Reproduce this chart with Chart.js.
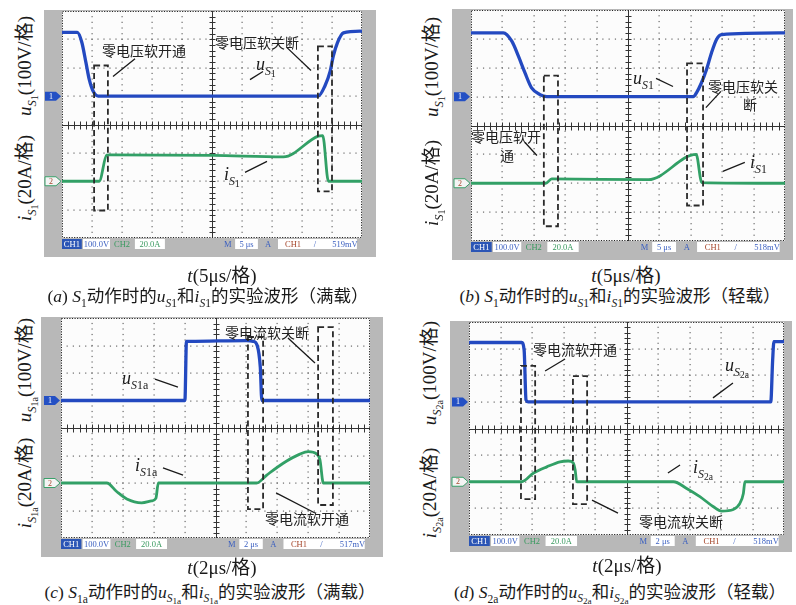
<!DOCTYPE html>
<html><head><meta charset="utf-8">
<script src="https://cdn.jsdelivr.net/npm/chart.js@4.4.1/dist/chart.umd.min.js"></script>
<style>
html,body{margin:0;padding:0;background:#fff;}
#root{position:relative;width:796px;height:605px;overflow:hidden;font-family:"Liberation Serif","Noto Sans CJK SC",serif;color:#1a1a1a;}
canvas{position:absolute;}
.t{position:absolute;white-space:nowrap;line-height:1;}
.cn{font-family:"Noto Sans CJK SC",sans-serif;font-size:14px;color:#222;}
.lab{font-size:18px;}
.ax{font-size:19px;}
.cap{font-size:17.5px;}
sub{font-size:0.66em;vertical-align:-0.38em;line-height:0;}
sub sub{font-size:0.8em;vertical-align:-0.25em;}
</style></head><body><div id="root"></div>
<script>
// ---------------- data ----------------
// Panel (a): S1, full load, 5 μs/div. Voltage in V, current in A, time in μs.
const aTimeU = [0, 2.55, 3.3, 4.0, 4.55, 5.2, 6.05, 42.7, 43.8, 44.7, 45.2, 45.9, 46.9, 49.7, 50];
const aVoltU = [225, 225, 190, 117, 58, 17, 0, 0, 35, 88, 140, 188, 223, 229, 228];
const aTimeI = [0, 6.2, 7.45, 8.0, 25.2, 36.9, 42.7, 43.45, 44.4, 50];
const aCurrI = [0, 0, 18.4, 18.6, 18.2, 17.2, 31.8, 32.2, 0, 0];
// Panel (b): S1, light load, 5 μs/div
const bTimeU = [0, 5.15, 6.5, 7.55, 8.6, 9.65, 11.0, 12.05, 35.4, 35.9, 36.7, 37.5, 38.3, 39.1, 39.9, 50];
const bVoltU = [221, 221, 192, 140, 82, 30, 7, 0, 0, 13, 48, 94, 152, 198, 215, 221];
const bTimeI = [0, 11.9, 12.85, 28.25, 35.85, 36.75, 50];
const bCurrI = [0, 0, 3, 2.5, 20, 0.5, 0];
// Panel (c): S1a, full load, 2 μs/div
const cTimeU = [0, 8.02, 8.12, 8.35, 12.0, 12.45, 12.7, 12.9, 13.0, 20];
const cVoltU = [0, 0, 215, 215, 218, 215, 200, 121, 0, 0];
const cTimeI = [0, 2.96, 3.6, 4.26, 5.22, 5.86, 6.14, 6.3, 12.66, 13.32, 14.38, 15.46, 16.0, 16.56, 16.76, 16.98, 20];
const cCurrI = [0, 0, -6.2, -11.6, -14.4, -13, -11.2, 0, 0, 5.8, 14.4, 21, 22.8, 21, 16.8, 0, 0];
// Panel (d): S2a, light load, 2 μs/div
const dTimeU = [0, 3.34, 3.5, 3.62, 3.76, 19.16, 19.28, 19.36, 20];
const dVoltU = [223, 223, 195, 7, 0, 0, 158, 226, 226];
const dTimeI = [0, 3.34, 4.08, 4.94, 5.78, 6.3, 6.62, 6.74, 6.84, 12.98, 13.82, 14.66, 15.52, 16.04, 16.78, 17.2, 17.42, 17.52, 20];
const dCurrI = [0, 0, 6.4, 11.2, 15, 15.6, 14.2, 8.8, 0, 0, -5, -11.2, -18.8, -22, -20.8, -16.2, -8.8, 0, 0];
// Scope settings / status bar texts
const voltPerDiv = 100, ampPerDiv = 20;
const timePerDiv = [5, 5, 2, 2];
const statusA = ['100.0V', '20.0A', '5 μs', '519mV'];
const statusB = ['100.0V', '20.0A', '5 μs', '518mV'];
const statusC = ['100.0V', '20.0A', '2 μs', '517mV'];
const statusD = ['100.0V', '20.0A', '2 μs', '518mV'];

// ---------------- layout / styling ----------------
const GRAY = '#b8b8b8', SCREEN = '#fcfcfc', BLUE = '#2349c0', GREEN = '#32a066';
const panels = [
  {frame:[44,10,332,247], pad:[18,1,14,19], tdiv:timePerDiv[0], tu:aTimeU, u:aVoltU, ti:aTimeI, i:aCurrI, status:statusA,
   boxes:[[5.35,7.65,108,-403],[42.65,45.0,175,-336]],
   leaders:[[12.17,132,8.5,69],[37.5,171,41.5,90],[31.33,58,33.5,87],[30.5,-269,34.17,-230]]},
  {frame:[452,9,341,251], pad:[19,1,8,19], tdiv:timePerDiv[1], tu:bTimeU, u:bVoltU, ti:bTimeI, i:bCurrI, status:statusB,
   boxes:[[11.6,13.85,73,-449],[34.4,36.95,115,-377]],
   leaders:[[29.46,63,32.17,35],[39.8,18,37.4,-38],[8.6,-159,10.5,-204],[40.1,-259,43.6,-228]]},
  {frame:[41,317,342,240], pad:[20,1,13,19], tdiv:timePerDiv[2], tu:cTimeU, u:cVoltU, ti:cTimeI, i:cCurrI, status:statusC,
   boxes:[[12.1,13.08,231,-395],[16.64,17.6,267,-380]],
   leaders:[[14.69,227,16.44,136],[6.08,78,7.57,49],[6.6,-245,7.9,-271],[13.92,-336,16.44,-409]]},
  {frame:[450,321,342,231], pad:[19,1,8,17], tdiv:timePerDiv[3], tu:dTimeU, u:dVoltU, ti:dTimeI, i:dCurrI, status:statusD,
   boxes:[[3.3,4.2,135,-365],[6.6,7.5,97,-384]],
   leaders:[[6.1,161,4.83,116],[16.76,71,15.49,15],[13.4,-237,12.63,-267],[7.81,-369,9.46,-418]]}
];

const root = document.getElementById('root');

const scopePlugin = {
  id: 'scope',
  beforeDraw(chart) {
    const ctx = chart.ctx, a = chart.chartArea, st = chart.options.plugins.scope;
    const xs = chart.scales.x, yu = chart.scales.yU;
    const W = a.right - a.left, H = a.bottom - a.top;
    ctx.save();
    ctx.fillStyle = GRAY; ctx.fillRect(0, 0, chart.width, chart.height);
    ctx.fillStyle = SCREEN; ctx.fillRect(a.left, a.top, W, H);
    const tdiv = st.tdiv;
    // dotted grid
    ctx.fillStyle = '#6a6a6a';
    for (let k = 1; k < 10; k++) {
      if (k === 5) continue;
      const x = Math.round(xs.getPixelForValue(k * tdiv));
      for (let j = 1; j < 40; j++) {
        const y = yu.getPixelForValue(-500 + j * voltPerDiv / 5);
        ctx.fillRect(x - 0.5, y - 0.6, 1.2, 1.2);
      }
    }
    for (let j = 1; j < 8; j++) {
      if (j === 4) continue;
      const y = Math.round(yu.getPixelForValue(-500 + j * voltPerDiv));
      for (let k = 1; k < 50; k++) {
        const x = xs.getPixelForValue(k * tdiv / 5);
        ctx.fillRect(x - 0.6, y - 0.5, 1.2, 1.2);
      }
    }
    // centre cross with minor ticks
    const cx = Math.round(xs.getPixelForValue(5 * tdiv)) + 0.5;
    const cy = Math.round(yu.getPixelForValue(-100)) + 0.5;
    ctx.strokeStyle = '#333'; ctx.lineWidth = 1;
    ctx.beginPath();
    ctx.moveTo(a.left, cy); ctx.lineTo(a.right, cy);
    ctx.moveTo(cx, a.top); ctx.lineTo(cx, a.bottom);
    for (let k = 1; k < 50; k++) {
      const x = Math.round(xs.getPixelForValue(k * tdiv / 5)) + 0.5;
      ctx.moveTo(x, cy - 4); ctx.lineTo(x, cy + 4);
    }
    for (let j = 1; j < 40; j++) {
      const y = Math.round(yu.getPixelForValue(-500 + j * voltPerDiv / 5)) + 0.5;
      ctx.moveTo(cx - 3, y); ctx.lineTo(cx + 3, y);
    }
    ctx.stroke();
    // dotted border
    ctx.setLineDash([1.2, 1.4]); ctx.strokeStyle = '#222';
    ctx.strokeRect(a.left + 0.5, a.top + 0.5, W - 1, H - 1);
    ctx.setLineDash([]);
    // status bar
    const by = a.bottom + 1, bh = 10, s = st.status;
    const box = (x0, x1, fill) => { ctx.fillStyle = fill; ctx.fillRect(a.left + x0 * W, by, (x1 - x0) * W, bh); };
    const txt = (str, xc, color) => {
      ctx.fillStyle = color; ctx.font = '8.5px "Liberation Serif"';
      ctx.textAlign = 'center'; ctx.textBaseline = 'middle';
      ctx.fillText(str, a.left + xc * W, by + bh / 2 + 0.5);
    };
    box(0, 0.066, '#2b55b5'); txt('CH1', 0.033, '#fff');
    box(0.07, 0.16, '#fff'); txt(s[0], 0.115, '#3a5fc0');
    txt('CH2', 0.2, '#3a9a60');
    box(0.243, 0.343, '#fff'); txt(s[1], 0.293, '#3a9a60');
    txt('M', 0.553, '#3a5fc0');
    box(0.577, 0.653, '#fff'); txt(s[2], 0.615, '#3a5fc0');
    txt('A', 0.687, '#3a5fc0');
    box(0.72, 0.983, '#fff'); txt('CH1', 0.77, '#a5452a'); txt('/', 0.843, '#3a5fc0'); txt(s[3], 0.943, '#3a5fc0');
    // ground markers
    const marker = (y, filled, color, label, lc) => {
      const x0 = a.left - 17, x1 = a.left - 1;
      ctx.beginPath();
      ctx.moveTo(x0, y - 4.5); ctx.lineTo(x1 - 5, y - 4.5); ctx.lineTo(x1, y);
      ctx.lineTo(x1 - 5, y + 4.5); ctx.lineTo(x0, y + 4.5); ctx.closePath();
      if (filled) { ctx.fillStyle = color; ctx.fill(); }
      else { ctx.fillStyle = '#f4f4f4'; ctx.fill(); ctx.strokeStyle = color; ctx.lineWidth = 1; ctx.stroke(); }
      ctx.fillStyle = lc; ctx.font = '8px "Liberation Serif"'; ctx.textAlign = 'center'; ctx.textBaseline = 'middle';
      ctx.fillText(label, x0 + 6, y + 0.5);
    };
    marker(yu.getPixelForValue(0), true, '#2450c4', '1', '#fff');
    marker(chart.scales.yI.getPixelForValue(0), false, '#3aa06a', '2', '#a5452a');
    ctx.restore();
  },
  afterDatasetsDraw(chart) {
    const ctx = chart.ctx, st = chart.options.plugins.scope;
    const xs = chart.scales.x, yu = chart.scales.yU;
    ctx.save();
    ctx.strokeStyle = '#2a2a2a'; ctx.lineWidth = 1.8; ctx.setLineDash([6, 3.5]);
    st.boxes.forEach(b => {
      const x0 = xs.getPixelForValue(b[0]), x1 = xs.getPixelForValue(b[1]);
      const y0 = yu.getPixelForValue(b[2]), y1 = yu.getPixelForValue(b[3]);
      ctx.strokeRect(x0, y0, x1 - x0, y1 - y0);
    });
    ctx.setLineDash([]); ctx.lineWidth = 1.3; ctx.strokeStyle = '#1a1a1a';
    ctx.beginPath();
    st.leaders.forEach(l => {
      ctx.moveTo(xs.getPixelForValue(l[0]), yu.getPixelForValue(l[1]));
      ctx.lineTo(xs.getPixelForValue(l[2]), yu.getPixelForValue(l[3]));
    });
    ctx.stroke();
    ctx.restore();
  }
};

panels.forEach(p => {
  const cv = document.createElement('canvas');
  cv.width = p.frame[2]; cv.height = p.frame[3];
  cv.style.left = p.frame[0] + 'px'; cv.style.top = p.frame[1] + 'px';
  cv.style.width = p.frame[2] + 'px'; cv.style.height = p.frame[3] + 'px';
  root.appendChild(cv);
  new Chart(cv, {
    type: 'line',
    data: {
      datasets: [
        {data: p.tu.map((t, k) => ({x: t, y: p.u[k]})), yAxisID: 'yU', borderColor: BLUE, borderWidth: 3.3, pointRadius: 0, cubicInterpolationMode: 'monotone', fill: false},
        {data: p.ti.map((t, k) => ({x: t, y: p.i[k]})), yAxisID: 'yI', borderColor: GREEN, borderWidth: 2.8, pointRadius: 0, cubicInterpolationMode: 'monotone', fill: false}
      ]
    },
    options: {
      responsive: false, animation: false, events: [],
      layout: {padding: {left: p.pad[0], top: p.pad[1], right: p.pad[2], bottom: p.pad[3]}},
      scales: {
        x: {type: 'linear', min: 0, max: 10 * p.tdiv, display: false},
        yU: {type: 'linear', min: -5 * voltPerDiv, max: 3 * voltPerDiv, display: false},
        yI: {type: 'linear', min: -2 * ampPerDiv, max: 6 * ampPerDiv, display: false}
      },
      plugins: {legend: {display: false}, tooltip: {enabled: false},
        scope: {tdiv: p.tdiv, status: p.status, boxes: p.boxes, leaders: p.leaders}}
    },
    plugins: [scopePlugin]
  });
});

// ---------------- text ----------------
function put(html, x, y, cls, mode) {
  const d = document.createElement('div');
  d.className = 't ' + cls; d.innerHTML = html;
  d.style.left = x + 'px'; d.style.top = y + 'px';
  if (mode === 'c') d.style.transform = 'translate(-50%,-50%)';
  else if (mode === 'r') d.style.transform = 'translate(-50%,-50%) rotate(-90deg)';
  else d.style.transform = 'translateY(-50%)';
  root.appendChild(d);
}
const S = (sub) => '<i>S</i><sub>' + sub + '</sub>';
const uS = (sub) => '<i>u</i><sub><i>S</i><sub>' + sub + '</sub></sub>';
const iS = (sub) => '<i>i</i><sub><i>S</i><sub>' + sub + '</sub></sub>';
const uSc = (sub) => '<i>u</i><sub><i>S</i>' + sub + '</sub>';
const iSc = (sub) => '<i>i</i><sub><i>S</i>' + sub + '</sub>';

// in-plot annotations
put('零电压软开通', 102, 50, 'cn'); put('零电压软关断', 215, 42, 'cn');
put(uS('1'), 256, 64, 'lab'); put(iS('1'), 224, 174, 'lab');
put(uSc('1'), 633, 78, 'lab'); put('零电压软关', 708, 86, 'cn'); put('断', 743, 104, 'cn');
put('零电压软开', 471, 136, 'cn'); put('通', 500, 155, 'cn'); put(iSc('1'), 750, 162, 'lab');
put('零电流软关断', 225, 332, 'cn'); put(uSc('1a'), 122, 378, 'lab'); put(iSc('1a'), 135, 465, 'lab'); put('零电流软开通', 265, 518, 'cn');
put('零电流软开通', 533, 349, 'cn'); put(uS('2a'), 725, 365, 'lab'); put(iS('2a'), 693, 467, 'lab'); put('零电流软关断', 639, 521, 'cn');

// y-axis titles (rotated)
put(uS('1') + '(100V/格)', 25, 66, 'ax', 'r'); put(iS('1') + '(20A/格)', 25, 178, 'ax', 'r');
put(uS('1') + '(100V/格)', 432, 67, 'ax', 'r'); put(iS('1') + '(20A/格)', 432, 183, 'ax', 'r');
put(uS('1a') + '(100V/格)', 25, 370, 'ax', 'r'); put(iS('1a') + '(20A/格)', 25, 483, 'ax', 'r');
put(uS('2a') + '(100V/格)', 430, 373, 'ax', 'r'); put(iS('2a') + '(20A/格)', 430, 493, 'ax', 'r');

// x-axis titles
put('<i>t</i>(5μs/格)', 222, 275, 'ax', 'c'); put('<i>t</i>(5μs/格)', 626, 275, 'ax', 'c');
put('<i>t</i>(2μs/格)', 222, 567, 'ax', 'c'); put('<i>t</i>(2μs/格)', 627, 565, 'ax', 'c');

// captions
put('(<i>a</i>) ' + S('1') + '动作时的' + uSc('1') + '和' + iSc('1') + '的实验波形（满载）', 208, 297, 'cap', 'c');
put('(<i>b</i>) ' + S('1') + '动作时的' + uSc('1') + '和' + iSc('1') + '的实验波形（轻载）', 620, 297, 'cap', 'c');
put('(<i>c</i>) ' + S('1a') + '动作时的' + uS('1a') + '和' + iS('1a') + '的实验波形（满载）', 210, 593, 'cap', 'c');
put('(<i>d</i>) ' + S('2a') + '动作时的' + uS('2a') + '和' + iS('2a') + '的实验波形（轻载）', 620, 593, 'cap', 'c');
</script></body></html>
